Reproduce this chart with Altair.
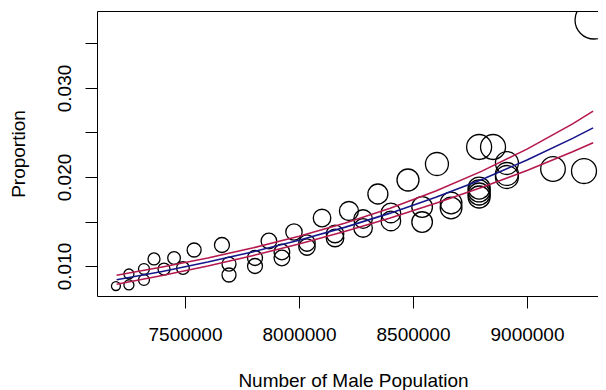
import altair as alt
import pandas as pd

male_pop = [7197000, 7254000, 7254000, 7320000, 7320000, 7364000, 7408000, 7452000,
            7491000, 7540000, 7662000, 7693000, 7693000, 7807000, 7807000, 7868000,
            7925000, 7925000, 7978000, 8035000, 8035000, 8101000, 8158000, 8158000,
            8219000, 8281000, 8281000, 8346000, 8403000, 8403000, 8478000, 8540000,
            8540000, 8605000, 8667000, 8667000, 8790000, 8851000, 8790000, 8790000,
            8790000, 8790000, 8912000, 8912000, 8912000, 9114000, 9250000, 9294000]
proportion = [0.00775, 0.00787, 0.00910, 0.00843, 0.00966, 0.01079, 0.00966, 0.01090,
              0.00978, 0.01180, 0.01236, 0.01022, 0.00899, 0.01090, 0.01000, 0.01281,
              0.01157, 0.01090, 0.01382, 0.01258, 0.01213, 0.01539, 0.01360, 0.01315,
              0.01618, 0.01528, 0.01427, 0.01809, 0.01596, 0.01506, 0.01966, 0.01663,
              0.01494, 0.02146, 0.01708, 0.01652, 0.02337, 0.02337, 0.01876, 0.01843,
              0.01809, 0.01775, 0.02157, 0.02034, 0.02000, 0.02090, 0.02067, 0.03764]
weight = [20, 25, 25, 30, 30, 36, 36, 40,
          40, 49, 56, 49, 49, 56, 56, 61,
          61, 61, 67, 67, 67, 77, 77, 77,
          90, 86, 86, 100, 96, 96, 121, 106,
          106, 132, 117, 117, 156, 156, 121, 121,
          121, 121, 132, 132, 132, 151, 156, 361]

# ---- fitted curve and confidence band ----
curve_x = [7200000, 7400000, 7600000, 7800000, 8000000, 8200000, 8400000,
           8600000, 8800000, 9000000, 9200000, 9290000]
fit = [0.00845, 0.00939, 0.01044, 0.01161, 0.01290, 0.01434, 0.01594,
       0.01772, 0.01970, 0.02190, 0.02434, 0.02552]
upper = [0.00897, 0.00988, 0.01090, 0.01205, 0.01334, 0.01481, 0.01650,
         0.01843, 0.02063, 0.02313, 0.02597, 0.02740]
lower = [0.00796, 0.00893, 0.01000, 0.01119, 0.01247, 0.01388, 0.01540,
         0.01705, 0.01881, 0.02074, 0.02283, 0.02385]

x_ticks = [7500000, 8000000, 8500000, 9000000]
y_ticks = [0.010, 0.015, 0.020, 0.025, 0.030, 0.035]

points = pd.DataFrame({"male_pop": male_pop, "proportion": proportion, "weight": weight})
n = len(curve_x)
curves = pd.DataFrame({
    "male_pop": curve_x * 3,
    "proportion": fit + upper + lower,
    "series": ["fit"] * n + ["upper"] * n + ["lower"] * n,
})

FONT = "Liberation Sans"
BLUE = "#16168C"
RED = "#B5184F"

xscale = alt.Scale(domain=[7114000, 9311400], nice=False, zero=False)
yscale = alt.Scale(domain=[0.00663, 0.03865], nice=False, zero=False)

y_axis = alt.Axis(
    values=y_ticks,
    labelExpr="round(datum.value*1000) % 10 == 0 ? format(datum.value, '.3f') : ''",
    labelAngle=270, labelAlign="center", labelBaseline="alphabetic",
    labelPadding=15, tickSize=12, labelFontSize=19, labelOverlap=False,
    title="Proportion", titleAngle=270, titleAlign="center",
    titleBaseline="alphabetic", titleX=-73, titleY=142.5,
    titleFontSize=19, titleFontWeight="normal", grid=False,
)

Y = alt.Y("proportion:Q", scale=yscale, axis=y_axis)

pts = alt.Chart(points).mark_point(
    shape="circle", filled=False, color="black", strokeWidth=1.3, opacity=1, clip=True
).encode(
    x=alt.X("male_pop:Q", scale=xscale, axis=alt.Axis(
        orient="bottom", values=x_ticks, format="d", tickSize=12,
        labelFontSize=19, labelPadding=32, labelBaseline="alphabetic",
        labelFlush=False, labelOverlap=False,
        title="Number of Male Population", titleFontSize=19,
        titleFontWeight="normal", titleBaseline="alphabetic", titleY=90.5,
        titleX=256, titleAlign="center", grid=False)),
    y=Y,
    size=alt.Size("weight:Q", scale=alt.Scale(domain=[0, 400], range=[0, 1600]), legend=None),
)

lines = alt.Chart(curves).mark_line(strokeWidth=1.6, clip=True).encode(
    x=alt.X("male_pop:Q", scale=xscale, axis=alt.Axis(
        orient="top", labels=False, ticks=False, domain=True, title=None, grid=False)),
    y=Y,
    color=alt.Color("series:N", scale=alt.Scale(domain=["fit", "upper", "lower"],
                                                range=[BLUE, RED, RED]), legend=None),
)

chart = alt.layer(pts, lines).resolve_axis(x="independent").properties(
    width=501, height=285,
    autosize=alt.AutoSizeParams(type="none"),
    padding={"left": 89, "top": 3, "right": 0, "bottom": 94},
).configure_view(stroke=None).configure_axis(
    domainColor="black", tickColor="black", labelColor="black", titleColor="black",
    labelFont=FONT, titleFont=FONT, domainWidth=1, tickWidth=1,
)

chart.save("out.html", embed_options={"renderer": "svg", "actions": False})
